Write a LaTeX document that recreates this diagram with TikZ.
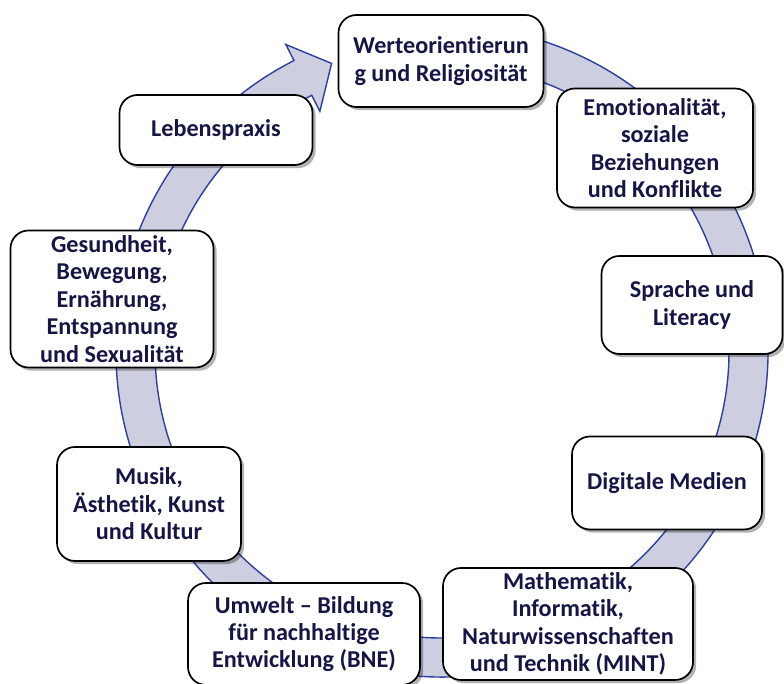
\documentclass[tikz,border=0pt]{standalone}
\usepackage{fontspec}
\setmainfont[Ligatures=NoCommon]{Carlito}
\usetikzlibrary{shadows}
\definecolor{ringfill}{HTML}{CDCEDF}
\definecolor{ringline}{HTML}{2F3F9F}
\definecolor{txt}{HTML}{161646}
\begin{document}
\begin{tikzpicture}[x=0.25mm, y=0.25mm]

\tikzstyle{box} = [rectangle, rounded corners=4.5mm, draw=black, line width=1.2pt, fill=white,
  text=txt, font=\bfseries\fontsize{17.2}{19.5}\selectfont, align=center, inner sep=0pt,
  drop shadow={shadow xshift=0.8mm, shadow yshift=-0.8mm, opacity=0.3, fill=black}]

\useasboundingbox (0,0) rectangle (784,684);

\coordinate (o) at (442,333);
\draw[ringline, fill=ringfill, line width=1pt, shift={(o)}]
  (117:326) arc[start angle=117, end angle=455, radius=326] -- (455:287)
  arc[start angle=455, end angle=117, radius=287] -- (117:269) -- (111:308) -- (117:344) -- cycle;

\node[box, minimum width=51.25mm, minimum height=23mm] (w) at (441,623) {Werteorientierun\\g und Religiosität};
\node[box, minimum width=49mm, minimum height=29.75mm] (e) at (655,536) {Emotionalität,\\soziale\\Beziehungen\\und Konflikte};
\node[box, minimum width=45.25mm, minimum height=24.5mm] (s) at (692,379) {Sprache und\\Literacy};
\node[box, minimum width=47.5mm, minimum height=23.25mm] (d) at (667,201) {Digitale Medien};
\node[box, minimum width=62.5mm, minimum height=28mm] (m) at (568,60) {Mathematik,\\Informatik,\\Naturwissenschaften\\und Technik (MINT)};
\node[box, minimum width=58mm, minimum height=25.5mm] (u) at (304,50) {Umwelt – Bildung\\für nachhaltige\\Entwicklung (BNE)};
\node[box, minimum width=46mm, minimum height=28.5mm] (k) at (149,180) {Musik,\\Ästhetik, Kunst\\und Kultur};
\node[box, minimum width=50.75mm, minimum height=34.25mm] (g) at (112,385) {Gesundheit,\\Bewegung,\\Ernährung,\\Entspannung\\und Sexualität};
\node[box, minimum width=48.25mm, minimum height=17.5mm] (l) at (216,554) {Lebenspraxis};

\end{tikzpicture}
\end{document}
